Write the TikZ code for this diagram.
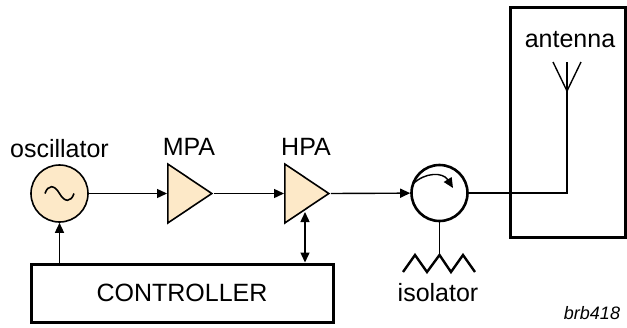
\documentclass[tikz,border=0pt]{standalone}
\usepackage{fontspec}
\setmainfont{Liberation Sans}
\usetikzlibrary{arrows.meta,shapes.geometric}
\usetikzlibrary{positioning}
\definecolor{ampfill}{RGB}{253,233,200}
\begin{document}
\begin{tikzpicture} [x=1pt,y=-1pt,
  every node/.style={font=\fontsize{25}{28}\selectfont},
  box/.style={draw,line width=3pt,inner sep=0pt},
  amp/.style={draw,line width=1.6pt,fill=ampfill,isosceles triangle,
    isosceles triangle stretches,inner sep=0pt,minimum width=59pt,minimum height=44pt},
  sig/.style={line width=1.4pt,-{Triangle[length=10pt,width=9pt]}}]
\useasboundingbox (0,0) rectangle (627,327);

\node (osc) [draw,circle,line width=1.6pt,fill=ampfill,minimum size=57pt,inner sep=0pt] at (59.5,193.5) {};
\draw[line width=1.6pt] ([xshift=-14.5pt]osc.center) .. controls +(3,-9) and +(-5,-9) .. (osc.center)
  .. controls +(5,9) and +(-3,9) .. ([xshift=14.5pt]osc.center);
\node (mpa) [amp,anchor=west] at (167,193.5) {};
\node (hpa) [amp,anchor=west] at (284,193.5) {};
\node (iso) [draw,circle,line width=2.6pt,minimum size=56pt,inner sep=0pt] at (439.5,193) {};
\node (ctrl) [box,minimum width=302pt,minimum height=58pt] at (182,293) {CONTROLLER};
\node (antbox) [box,minimum width=115pt,minimum height=230pt] at (567.5,122) {};

\node (osclbl) [above=3pt of osc] {oscillator};
\node (mpalbl) at (189,147) {MPA};
\node (hpalbl) at (306,147) {HPA};
\node (antlbl) at (570,40) {antenna};
\node (isolbl) at (438,293) {isolator};
\node (tag) at (592,313) {\fontsize{18}{20}\selectfont\itshape brb418};

\draw[sig](osc)--(mpa);
\draw[sig](mpa.apex)--(hpa);
\draw[sig](hpa.apex)--(iso);
\draw[sig](osc |- ctrl.north)--(osc);
\coordinate (hpab) at (305,212);
\draw[line width=1.4pt,{Triangle[length=10pt,width=9pt]}-{Triangle[length=10pt,width=9pt]}](hpab)--(hpab |- ctrl.north);

% arc inside isolator
\draw[line width=1.4pt,-{Triangle[length=10pt,width=9pt]}] (413,184) .. controls (425,172) and (443,172) .. (453,188);

% load
\coordinate (load) at (439.5,255);
\draw[line width=1.4pt](iso)--(load);
\draw[line width=2.4pt,line join=miter] (403,272)--(415,255)--(427,272)--(load)--(451,272)--(463,255)--(475,272);

% antenna
\coordinate (feed) at (567,193);
\coordinate (anttop) at (567,62);
\draw[line width=1.4pt](iso)--(feed)--(anttop);
\draw[line width=1.4pt](553,62)--(567,91)--(581,62);
\end{tikzpicture}
\end{document}
